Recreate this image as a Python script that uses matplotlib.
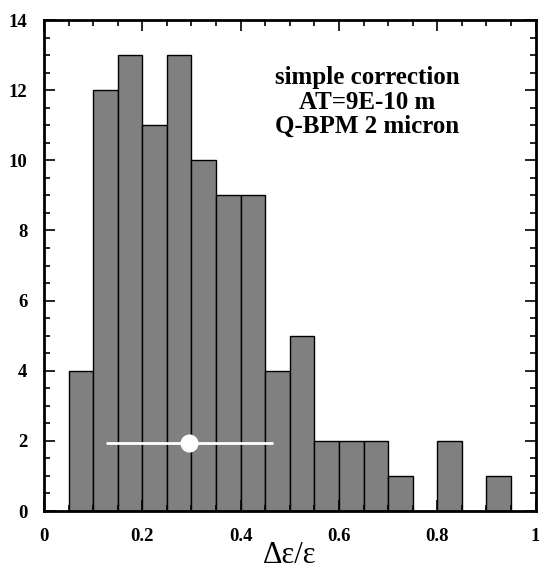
import numpy as np
import matplotlib.pyplot as plt
from matplotlib.ticker import MultipleLocator

# histogram data
bin_left = [0.05, 0.10, 0.15, 0.20, 0.25, 0.30, 0.35, 0.40, 0.45,
            0.50, 0.55, 0.60, 0.65, 0.70, 0.75, 0.80, 0.85, 0.90]
counts = [4, 12, 13, 11, 13, 10, 9, 9, 4, 5, 2, 2, 2, 1, 0, 2, 0, 1]
bin_width = 0.05

mean_val = 0.296
spread = 0.17
mean_y = 1.95

plt.rcParams['font.family'] = ['Liberation Serif', 'DejaVu Serif']

fig = plt.figure(figsize=(5.39, 5.72), dpi=100)
ax = fig.add_axes([0.0816, 0.1066, 0.912, 0.8584])

ax.bar(bin_left, counts, width=bin_width, align='edge',
       color='#808080', edgecolor='black', linewidth=1.0)

ax.errorbar([mean_val], [mean_y], xerr=[spread], fmt='o', color='white',
            ms=12, elinewidth=2, capsize=0, zorder=5)

ax.text(0.657, 11.66, "simple correction\nAT=9E-10 m\nQ-BPM 2 micron",
        ha='center', va='center', fontsize=18, fontweight='bold',
        linespacing=1.08)

ax.set_xlim(0, 1)
ax.set_ylim(0, 14)
ax.xaxis.set_minor_locator(MultipleLocator(0.05))
ax.yaxis.set_major_locator(MultipleLocator(2))
ax.yaxis.set_minor_locator(MultipleLocator(0.5))
ax.set_xticks([0, 0.2, 0.4, 0.6, 0.8, 1])
ax.set_xticklabels(['0', '0.2', '0.4', '0.6', '0.8', '1'])
ax.tick_params(which='both', direction='in', top=True, right=True, width=1.2)
ax.tick_params(which='major', length=8, labelsize=13.5, pad=12)
ax.tick_params(which='minor', length=4)
for lab in ax.get_xticklabels() + ax.get_yticklabels():
    lab.set_fontweight('bold')
for sp in ax.spines.values():
    sp.set_linewidth(2)

ax.set_xlabel("Δε/ε", fontsize=22, labelpad=-3)

fig.savefig("out.png", dpi=100)
